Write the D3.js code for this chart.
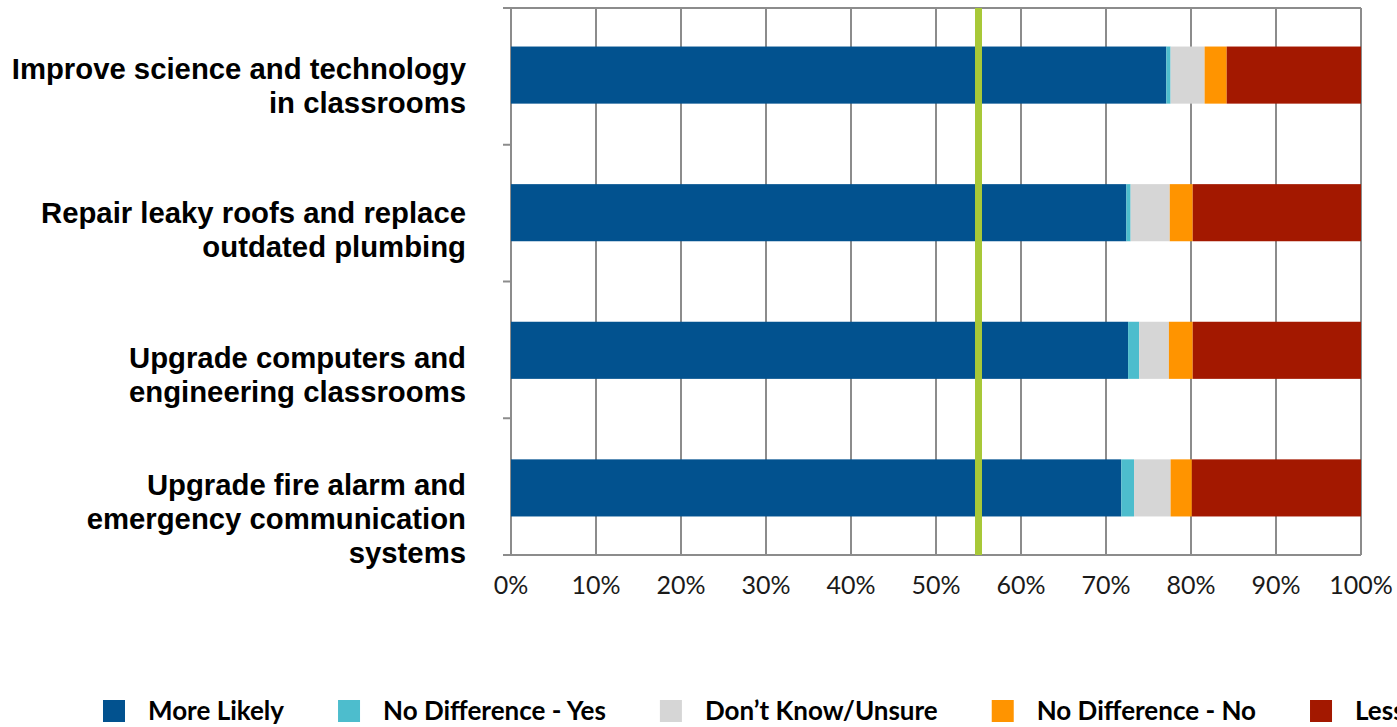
<!DOCTYPE html>
<html>
<head>
<meta charset="utf-8">
<script src="https://cdn.jsdelivr.net/npm/d3@7"></script>
<style>
  html, body { margin: 0; padding: 0; background: #fff; overflow: hidden; }
</style>
</head>
<body>
<div id="chart"></div>
<script>
// data
const categories = [
    ["Improve science and technology", "in classrooms"],
    ["Repair leaky roofs and replace", "outdated plumbing"],
    ["Upgrade computers and", "engineering classrooms"],
    ["Upgrade fire alarm and", "emergency communication", "systems"]
];
const seriesNames = ["More Likely", "No Difference - Yes", "Don\u2019t Know/Unsure", "No Difference - No", "Less Likely"];
const moreLikely   = [77.1, 72.4, 72.6, 71.8];
const noDiffYes    = [0.5, 0.5, 1.3, 1.5];
const dontKnow     = [4.0, 4.6, 3.5, 4.3];
const noDiffNo     = [2.6, 2.7, 2.8, 2.5];
const lessLikely   = [15.8, 19.8, 19.8, 19.9];
const xTicks = [0, 10, 20, 30, 40, 50, 60, 70, 80, 90, 100];
const referenceLine = 55;

const colors = ["#02528f", "#4dbdcd", "#d6d6d6", "#ff9400", "#a31800"];

const W = 1397, H = 727;
const margin = { top: 8, right: 36, bottom: 172, left: 511 };
const width = W - margin.left - margin.right;
const height = H - margin.top - margin.bottom;

const svg = d3.select('#chart').append('svg')
    .attr('width', W)
    .attr('height', H);

const g = svg.append('g')
    .attr('transform', 'translate(' + margin.left + ',' + margin.top + ')');

const x = d3.scaleLinear().domain([0, 100]).range([0, width]);
const y = d3.scaleBand().domain(d3.range(categories.length)).range([0, height]).paddingInner(0.585).paddingOuter(0.28);

// labels sit on a slightly wider grid than the bars
const last = categories.length - 1;
const yLabel = d3.scalePoint()
    .domain(d3.range(categories.length))
    .range([y(0) + y.bandwidth() / 2 + 11, y(last) + y.bandwidth() / 2 + 31]);

// stack the series
const rows = categories.map((c, i) => ({
    s0: moreLikely[i], s1: noDiffYes[i], s2: dontKnow[i], s3: noDiffNo[i], s4: lessLikely[i]
}));
const stack = d3.stack().keys(["s0", "s1", "s2", "s3", "s4"])(rows);

// gridlines
const gridColor = "#8c8c8c";
g.append('g')
    .selectAll('line')
    .data(xTicks)
    .enter().append('line')
    .attr('x1', d => x(d)).attr('x2', d => x(d))
    .attr('y1', 0).attr('y2', height)
    .style('stroke', gridColor)
    .style('stroke-width', 2);

// top border
g.append('line')
    .attr('x1', -8).attr('x2', width)
    .attr('y1', 0).attr('y2', 0)
    .style('stroke', gridColor).style('stroke-width', 2);

// left ticks at band boundaries
const step = height / categories.length;
g.append('g')
    .selectAll('line')
    .data(d3.range(categories.length + 1))
    .enter().append('line')
    .attr('x1', -8).attr('x2', 0)
    .attr('y1', d => d * step).attr('y2', d => d * step)
    .style('stroke', gridColor).style('stroke-width', 2);

// bottom axis line
g.append('line')
    .attr('x1', -8).attr('x2', width)
    .attr('y1', height).attr('y2', height)
    .style('stroke', gridColor).style('stroke-width', 2);

// bars
const barsG = g.append('g');
stack.forEach((layer, si) => {
    barsG.append('g')
        .style('fill', colors[si])
        .selectAll('rect')
        .data(layer)
        .enter().append('rect')
        .attr('x', d => x(d[0]))
        .attr('width', d => x(d[1]) - x(d[0]))
        .attr('y', (d, i) => y(i))
        .attr('height', y.bandwidth());
});

// reference line
g.append('line')
    .attr('x1', x(referenceLine)).attr('x2', x(referenceLine))
    .attr('y1', 0).attr('y2', height)
    .style('stroke', '#a8c838')
    .style('stroke-width', 7);

// x tick labels
g.append('g')
    .selectAll('text')
    .data(xTicks)
    .enter().append('text')
    .attr('x', d => x(d))
    .attr('y', height + 39)
    .style('text-anchor', 'middle')
    .style('font-family', 'Lato, "Open Sans", sans-serif')
    .style('font-size', '25px')
    .style('fill', '#1a1a1a')
    .text(d => d + '%');

// category labels
const lineH = 34;
g.append('g')
    .selectAll('text')
    .data(categories)
    .enter().append('text')
    .attr('x', -45)
    .attr('y', (d, i) => yLabel(i) + 10 - (d.length - 1) * lineH / 2)
    .style('text-anchor', 'end')
    .style('font-family', '"Liberation Sans", Arial, sans-serif')
    .style('font-weight', 'bold')
    .style('font-size', '29.3px')
    .style('fill', '#000')
    .each(function(d) {
        const t = d3.select(this);
        d.forEach((line, k) => {
            t.append('tspan')
                .attr('x', -45)
                .attr('dy', k === 0 ? 0 : lineH)
                .text(line);
        });
    });

// legend
const legend = svg.append('g').attr('transform', 'translate(103, 700)');
let lx = 0;
seriesNames.forEach((name, i) => {
    const item = legend.append('g').attr('transform', 'translate(' + lx + ',0)');
    item.append('rect')
        .attr('width', 22).attr('height', 22)
        .style('fill', colors[i]);
    const txt = item.append('text')
        .attr('x', 45)
        .attr('y', 20)
        .style('font-family', 'Lato, "Open Sans", sans-serif')
        .style('font-weight', 'bold')
        .style('font-size', '26px')
        .style('fill', '#000')
        .text(name);
    lx += 45 + txt.node().getComputedTextLength() + 54;
});
</script>
</body>
</html>
